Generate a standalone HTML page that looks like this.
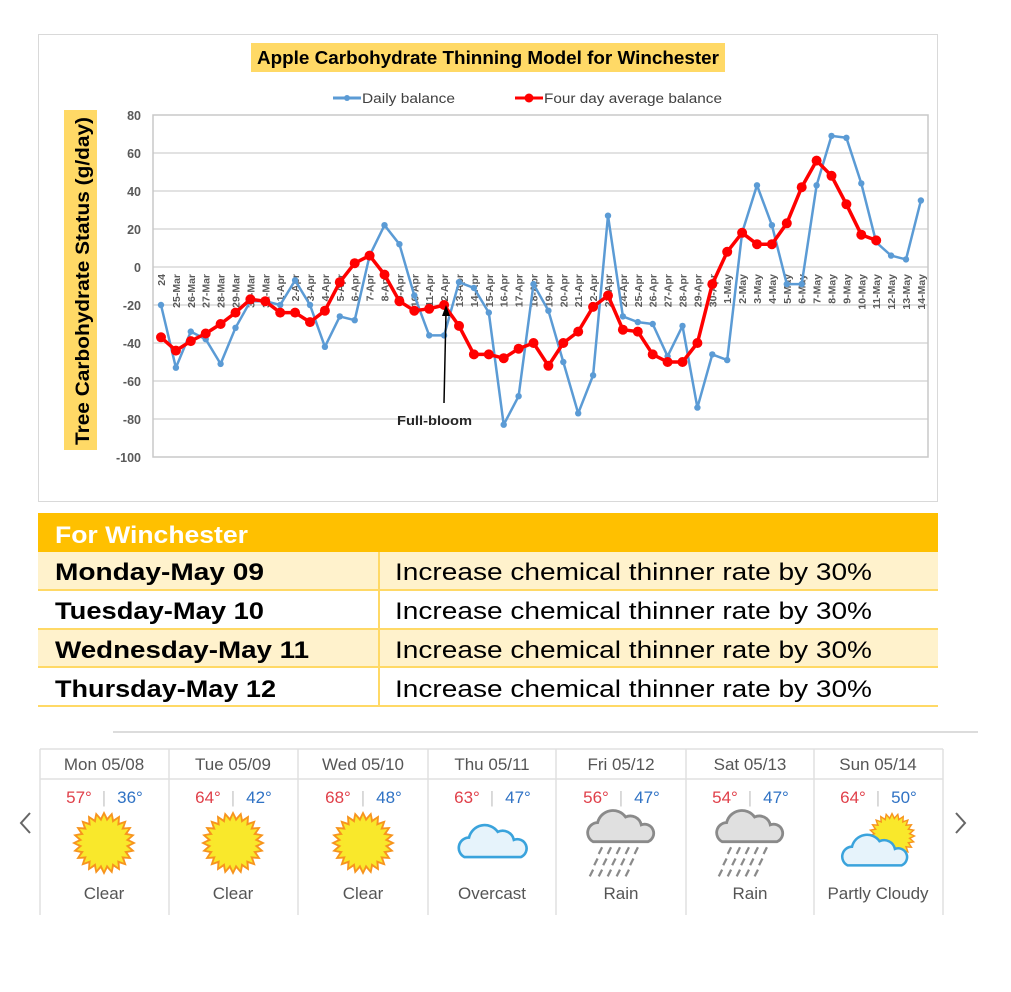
<!DOCTYPE html>
<html><head><meta charset="utf-8"><style>
body{margin:0;background:#fff;width:1011px;height:992px;overflow:hidden;position:relative;font-family:"Liberation Sans",sans-serif}
</style></head><body>
<svg width="1011" height="992" style="position:absolute;left:0;top:0" font-family="Liberation Sans, sans-serif">
<defs>
<g id="sun">
<g fill="#f7941d">
<polygon points="-6,-20 0,-32 6,-20"/>
<polygon points="-6,-20 0,-32 6,-20" transform="rotate(15)"/>
<polygon points="-6,-20 0,-32 6,-20" transform="rotate(30)"/>
<polygon points="-6,-20 0,-32 6,-20" transform="rotate(45)"/>
<polygon points="-6,-20 0,-32 6,-20" transform="rotate(60)"/>
<polygon points="-6,-20 0,-32 6,-20" transform="rotate(75)"/>
<polygon points="-6,-20 0,-32 6,-20" transform="rotate(90)"/>
<polygon points="-6,-20 0,-32 6,-20" transform="rotate(105)"/>
<polygon points="-6,-20 0,-32 6,-20" transform="rotate(120)"/>
<polygon points="-6,-20 0,-32 6,-20" transform="rotate(135)"/>
<polygon points="-6,-20 0,-32 6,-20" transform="rotate(150)"/>
<polygon points="-6,-20 0,-32 6,-20" transform="rotate(165)"/>
<polygon points="-6,-20 0,-32 6,-20" transform="rotate(180)"/>
<polygon points="-6,-20 0,-32 6,-20" transform="rotate(195)"/>
<polygon points="-6,-20 0,-32 6,-20" transform="rotate(210)"/>
<polygon points="-6,-20 0,-32 6,-20" transform="rotate(225)"/>
<polygon points="-6,-20 0,-32 6,-20" transform="rotate(240)"/>
<polygon points="-6,-20 0,-32 6,-20" transform="rotate(255)"/>
<polygon points="-6,-20 0,-32 6,-20" transform="rotate(270)"/>
<polygon points="-6,-20 0,-32 6,-20" transform="rotate(285)"/>
<polygon points="-6,-20 0,-32 6,-20" transform="rotate(300)"/>
<polygon points="-6,-20 0,-32 6,-20" transform="rotate(315)"/>
<polygon points="-6,-20 0,-32 6,-20" transform="rotate(330)"/>
<polygon points="-6,-20 0,-32 6,-20" transform="rotate(345)"/>
</g>
<circle r="22" fill="#f7941d"/>
<g fill="#f9e82b">
<polygon points="-4,-19 0,-28 4,-19"/>
<polygon points="-4,-19 0,-28 4,-19" transform="rotate(15)"/>
<polygon points="-4,-19 0,-28 4,-19" transform="rotate(30)"/>
<polygon points="-4,-19 0,-28 4,-19" transform="rotate(45)"/>
<polygon points="-4,-19 0,-28 4,-19" transform="rotate(60)"/>
<polygon points="-4,-19 0,-28 4,-19" transform="rotate(75)"/>
<polygon points="-4,-19 0,-28 4,-19" transform="rotate(90)"/>
<polygon points="-4,-19 0,-28 4,-19" transform="rotate(105)"/>
<polygon points="-4,-19 0,-28 4,-19" transform="rotate(120)"/>
<polygon points="-4,-19 0,-28 4,-19" transform="rotate(135)"/>
<polygon points="-4,-19 0,-28 4,-19" transform="rotate(150)"/>
<polygon points="-4,-19 0,-28 4,-19" transform="rotate(165)"/>
<polygon points="-4,-19 0,-28 4,-19" transform="rotate(180)"/>
<polygon points="-4,-19 0,-28 4,-19" transform="rotate(195)"/>
<polygon points="-4,-19 0,-28 4,-19" transform="rotate(210)"/>
<polygon points="-4,-19 0,-28 4,-19" transform="rotate(225)"/>
<polygon points="-4,-19 0,-28 4,-19" transform="rotate(240)"/>
<polygon points="-4,-19 0,-28 4,-19" transform="rotate(255)"/>
<polygon points="-4,-19 0,-28 4,-19" transform="rotate(270)"/>
<polygon points="-4,-19 0,-28 4,-19" transform="rotate(285)"/>
<polygon points="-4,-19 0,-28 4,-19" transform="rotate(300)"/>
<polygon points="-4,-19 0,-28 4,-19" transform="rotate(315)"/>
<polygon points="-4,-19 0,-28 4,-19" transform="rotate(330)"/>
<polygon points="-4,-19 0,-28 4,-19" transform="rotate(345)"/>
<circle r="20"/>
</g>
</g>
<path id="cloudp" d="M-24,14 A9,9 0 0 1 -20,-3 A14,14 0 0 1 5,-8 A10,10 0 0 1 19,-1 A8,8 0 0 1 25,14 Z"/>
<g id="rain">
<use href="#cloudp" fill="#e0e0e0" stroke="#8a8a8a" stroke-width="2.5"/>
<g stroke="#8a8a8a" stroke-width="2">
<line x1="-16" y1="19" x2="-19" y2="25"/><line x1="-8" y1="19" x2="-11" y2="25"/><line x1="0" y1="19" x2="-3" y2="25"/><line x1="8" y1="19" x2="5" y2="25"/><line x1="16" y1="19" x2="13" y2="25"/>
<line x1="-20" y1="29" x2="-23" y2="35"/><line x1="-12" y1="29" x2="-15" y2="35"/><line x1="-4" y1="29" x2="-7" y2="35"/><line x1="4" y1="29" x2="1" y2="35"/><line x1="12" y1="29" x2="9" y2="35"/>
<line x1="-24" y1="39" x2="-27" y2="45"/><line x1="-16" y1="39" x2="-19" y2="45"/><line x1="-8" y1="39" x2="-11" y2="45"/><line x1="0" y1="39" x2="-3" y2="45"/><line x1="8" y1="39" x2="5" y2="45"/>
</g>
</g>
</defs>

<rect x="38.5" y="34.5" width="899" height="467" fill="#fff" stroke="#d9d9d9"/>
<rect x="251" y="43" width="474" height="29" fill="#ffd966"/>
<text x="488" y="64" text-anchor="middle" font-size="18" font-weight="bold" fill="#000" textLength="462" lengthAdjust="spacingAndGlyphs">Apple Carbohydrate Thinning Model for Winchester</text>
<line x1="333" y1="98" x2="361" y2="98" stroke="#5b9bd5" stroke-width="3"/><circle cx="347" cy="98" r="3" fill="#5b9bd5"/>
<text x="362" y="103" font-size="13.5" fill="#404040" textLength="93" lengthAdjust="spacingAndGlyphs">Daily balance</text>
<line x1="515" y1="98" x2="543" y2="98" stroke="#f00" stroke-width="3"/><circle cx="529" cy="98" r="4.5" fill="#f00"/>
<text x="544" y="103" font-size="13.5" fill="#404040" textLength="178" lengthAdjust="spacingAndGlyphs">Four day average balance</text>
<rect x="64" y="110" width="33" height="340" fill="#ffd966"/>
<text transform="translate(89,445) rotate(-90)" font-size="19" font-weight="bold" fill="#000" textLength="328" lengthAdjust="spacingAndGlyphs">Tree Carbohydrate Status (g/day)</text>
<g stroke="#d9d9d9" stroke-width="1.5">
<line x1="153" y1="153" x2="928" y2="153"/><line x1="153" y1="191" x2="928" y2="191"/><line x1="153" y1="229" x2="928" y2="229"/><line x1="153" y1="267" x2="928" y2="267"/><line x1="153" y1="305" x2="928" y2="305"/><line x1="153" y1="343" x2="928" y2="343"/><line x1="153" y1="381" x2="928" y2="381"/><line x1="153" y1="419" x2="928" y2="419"/>
</g>
<rect x="153" y="115" width="775" height="342" fill="none" stroke="#c8c8c8" stroke-width="1.5"/>
<g font-size="12.5" font-weight="bold" fill="#595959" text-anchor="end">
<text x="141" y="120">80</text><text x="141" y="158">60</text><text x="141" y="196">40</text><text x="141" y="234">20</text><text x="141" y="272">0</text><text x="141" y="310">-20</text><text x="141" y="348">-40</text><text x="141" y="386">-60</text><text x="141" y="424">-80</text><text x="141" y="462">-100</text>
</g>
<g font-size="10.5" font-weight="bold" fill="#595959" text-anchor="end">
<text transform="translate(165,274) rotate(-90)">24</text>
<text transform="translate(179.9,274) rotate(-90)">25-Mar</text>
<text transform="translate(194.8,274) rotate(-90)">26-Mar</text>
<text transform="translate(209.7,274) rotate(-90)">27-Mar</text>
<text transform="translate(224.6,274) rotate(-90)">28-Mar</text>
<text transform="translate(239.5,274) rotate(-90)">29-Mar</text>
<text transform="translate(254.4,274) rotate(-90)">30-Mar</text>
<text transform="translate(269.3,274) rotate(-90)">31-Mar</text>
<text transform="translate(284.2,274) rotate(-90)">1-Apr</text>
<text transform="translate(299.1,274) rotate(-90)">2-Apr</text>
<text transform="translate(314,274) rotate(-90)">3-Apr</text>
<text transform="translate(328.9,274) rotate(-90)">4-Apr</text>
<text transform="translate(343.8,274) rotate(-90)">5-Apr</text>
<text transform="translate(358.7,274) rotate(-90)">6-Apr</text>
<text transform="translate(373.6,274) rotate(-90)">7-Apr</text>
<text transform="translate(388.5,274) rotate(-90)">8-Apr</text>
<text transform="translate(403.4,274) rotate(-90)">9-Apr</text>
<text transform="translate(418.3,274) rotate(-90)">10-Apr</text>
<text transform="translate(433.2,274) rotate(-90)">11-Apr</text>
<text transform="translate(448.1,274) rotate(-90)">12-Apr</text>
<text transform="translate(463,274) rotate(-90)">13-Apr</text>
<text transform="translate(477.9,274) rotate(-90)">14-Apr</text>
<text transform="translate(492.8,274) rotate(-90)">15-Apr</text>
<text transform="translate(507.7,274) rotate(-90)">16-Apr</text>
<text transform="translate(522.6,274) rotate(-90)">17-Apr</text>
<text transform="translate(537.5,274) rotate(-90)">18-Apr</text>
<text transform="translate(552.4,274) rotate(-90)">19-Apr</text>
<text transform="translate(567.3,274) rotate(-90)">20-Apr</text>
<text transform="translate(582.2,274) rotate(-90)">21-Apr</text>
<text transform="translate(597.1,274) rotate(-90)">22-Apr</text>
<text transform="translate(612,274) rotate(-90)">23-Apr</text>
<text transform="translate(626.9,274) rotate(-90)">24-Apr</text>
<text transform="translate(641.8,274) rotate(-90)">25-Apr</text>
<text transform="translate(656.7,274) rotate(-90)">26-Apr</text>
<text transform="translate(671.6,274) rotate(-90)">27-Apr</text>
<text transform="translate(686.5,274) rotate(-90)">28-Apr</text>
<text transform="translate(701.4,274) rotate(-90)">29-Apr</text>
<text transform="translate(716.3,274) rotate(-90)">30-Apr</text>
<text transform="translate(731.2,274) rotate(-90)">1-May</text>
<text transform="translate(746.1,274) rotate(-90)">2-May</text>
<text transform="translate(761,274) rotate(-90)">3-May</text>
<text transform="translate(775.9,274) rotate(-90)">4-May</text>
<text transform="translate(790.8,274) rotate(-90)">5-May</text>
<text transform="translate(805.7,274) rotate(-90)">6-May</text>
<text transform="translate(820.6,274) rotate(-90)">7-May</text>
<text transform="translate(835.5,274) rotate(-90)">8-May</text>
<text transform="translate(850.4,274) rotate(-90)">9-May</text>
<text transform="translate(865.3,274) rotate(-90)">10-May</text>
<text transform="translate(880.2,274) rotate(-90)">11-May</text>
<text transform="translate(895.1,274) rotate(-90)">12-May</text>
<text transform="translate(910,274) rotate(-90)">13-May</text>
<text transform="translate(924.9,274) rotate(-90)">14-May</text>
</g>
<polyline fill="none" stroke="#5b9bd5" stroke-width="2.5" stroke-linejoin="round" points="161,305 175.9,367.7 190.8,331.6 205.7,339.2 220.6,363.9 235.5,327.8 250.4,301.2 265.3,301.2 280.2,305 295.1,280.3 310,305 324.9,346.8 339.8,316.4 354.7,320.2 369.6,255.6 384.5,225.2 399.4,244.2 414.3,295.5 429.2,335.4 444.1,335.4 459,282.2 473.9,287.9 488.8,312.6 503.7,424.7 518.6,396.2 533.5,284.1 548.4,310.7 563.3,362 578.2,413.3 593.1,375.3 608,215.7 622.9,316.4 637.8,322.1 652.7,324 667.6,356.3 682.5,325.9 697.4,407.6 712.3,354.4 727.2,360.1 742.1,232.8 757,185.3 771.9,225.2 786.8,284.1 801.7,284.1 816.6,185.3 831.5,135.9 846.4,137.8 861.3,183.4 876.2,242.3 891.1,255.6 906,259.4 920.9,200.5"/>
<g fill="#5b9bd5">
<circle cx="161" cy="305" r="3.2"/><circle cx="175.9" cy="367.7" r="3.2"/><circle cx="190.8" cy="331.6" r="3.2"/><circle cx="205.7" cy="339.2" r="3.2"/><circle cx="220.6" cy="363.9" r="3.2"/><circle cx="235.5" cy="327.8" r="3.2"/><circle cx="250.4" cy="301.2" r="3.2"/><circle cx="265.3" cy="301.2" r="3.2"/><circle cx="280.2" cy="305" r="3.2"/><circle cx="295.1" cy="280.3" r="3.2"/><circle cx="310" cy="305" r="3.2"/><circle cx="324.9" cy="346.8" r="3.2"/><circle cx="339.8" cy="316.4" r="3.2"/><circle cx="354.7" cy="320.2" r="3.2"/><circle cx="369.6" cy="255.6" r="3.2"/><circle cx="384.5" cy="225.2" r="3.2"/><circle cx="399.4" cy="244.2" r="3.2"/><circle cx="414.3" cy="295.5" r="3.2"/><circle cx="429.2" cy="335.4" r="3.2"/><circle cx="444.1" cy="335.4" r="3.2"/><circle cx="459" cy="282.2" r="3.2"/><circle cx="473.9" cy="287.9" r="3.2"/><circle cx="488.8" cy="312.6" r="3.2"/><circle cx="503.7" cy="424.7" r="3.2"/><circle cx="518.6" cy="396.2" r="3.2"/><circle cx="533.5" cy="284.1" r="3.2"/><circle cx="548.4" cy="310.7" r="3.2"/><circle cx="563.3" cy="362" r="3.2"/><circle cx="578.2" cy="413.3" r="3.2"/><circle cx="593.1" cy="375.3" r="3.2"/><circle cx="608" cy="215.7" r="3.2"/><circle cx="622.9" cy="316.4" r="3.2"/><circle cx="637.8" cy="322.1" r="3.2"/><circle cx="652.7" cy="324" r="3.2"/><circle cx="667.6" cy="356.3" r="3.2"/><circle cx="682.5" cy="325.9" r="3.2"/><circle cx="697.4" cy="407.6" r="3.2"/><circle cx="712.3" cy="354.4" r="3.2"/><circle cx="727.2" cy="360.1" r="3.2"/><circle cx="742.1" cy="232.8" r="3.2"/><circle cx="757" cy="185.3" r="3.2"/><circle cx="771.9" cy="225.2" r="3.2"/><circle cx="786.8" cy="284.1" r="3.2"/><circle cx="801.7" cy="284.1" r="3.2"/><circle cx="816.6" cy="185.3" r="3.2"/><circle cx="831.5" cy="135.9" r="3.2"/><circle cx="846.4" cy="137.8" r="3.2"/><circle cx="861.3" cy="183.4" r="3.2"/><circle cx="876.2" cy="242.3" r="3.2"/><circle cx="891.1" cy="255.6" r="3.2"/><circle cx="906" cy="259.4" r="3.2"/><circle cx="920.9" cy="200.5" r="3.2"/>
</g>
<polyline fill="none" stroke="#f00" stroke-width="3.5" stroke-linejoin="round" points="161,337.3 175.9,350.6 190.8,341.1 205.7,333.5 220.6,324 235.5,312.6 250.4,299.3 265.3,301.2 280.2,312.6 295.1,312.6 310,322.1 324.9,310.7 339.8,282.2 354.7,263.2 369.6,255.6 384.5,274.6 399.4,301.2 414.3,310.7 429.2,308.8 444.1,305 459,325.9 473.9,354.4 488.8,354.4 503.7,358.2 518.6,348.7 533.5,343 548.4,365.8 563.3,343 578.2,331.6 593.1,306.9 608,295.5 622.9,329.7 637.8,331.6 652.7,354.4 667.6,362 682.5,362 697.4,343 712.3,284.1 727.2,251.8 742.1,232.8 757,244.2 771.9,244.2 786.8,223.3 801.7,187.2 816.6,160.6 831.5,175.8 846.4,204.3 861.3,234.7 876.2,240.4"/>
<g fill="#f00">
<circle cx="161" cy="337.3" r="5"/><circle cx="175.9" cy="350.6" r="5"/><circle cx="190.8" cy="341.1" r="5"/><circle cx="205.7" cy="333.5" r="5"/><circle cx="220.6" cy="324" r="5"/><circle cx="235.5" cy="312.6" r="5"/><circle cx="250.4" cy="299.3" r="5"/><circle cx="265.3" cy="301.2" r="5"/><circle cx="280.2" cy="312.6" r="5"/><circle cx="295.1" cy="312.6" r="5"/><circle cx="310" cy="322.1" r="5"/><circle cx="324.9" cy="310.7" r="5"/><circle cx="339.8" cy="282.2" r="5"/><circle cx="354.7" cy="263.2" r="5"/><circle cx="369.6" cy="255.6" r="5"/><circle cx="384.5" cy="274.6" r="5"/><circle cx="399.4" cy="301.2" r="5"/><circle cx="414.3" cy="310.7" r="5"/><circle cx="429.2" cy="308.8" r="5"/><circle cx="444.1" cy="305" r="5"/><circle cx="459" cy="325.9" r="5"/><circle cx="473.9" cy="354.4" r="5"/><circle cx="488.8" cy="354.4" r="5"/><circle cx="503.7" cy="358.2" r="5"/><circle cx="518.6" cy="348.7" r="5"/><circle cx="533.5" cy="343" r="5"/><circle cx="548.4" cy="365.8" r="5"/><circle cx="563.3" cy="343" r="5"/><circle cx="578.2" cy="331.6" r="5"/><circle cx="593.1" cy="306.9" r="5"/><circle cx="608" cy="295.5" r="5"/><circle cx="622.9" cy="329.7" r="5"/><circle cx="637.8" cy="331.6" r="5"/><circle cx="652.7" cy="354.4" r="5"/><circle cx="667.6" cy="362" r="5"/><circle cx="682.5" cy="362" r="5"/><circle cx="697.4" cy="343" r="5"/><circle cx="712.3" cy="284.1" r="5"/><circle cx="727.2" cy="251.8" r="5"/><circle cx="742.1" cy="232.8" r="5"/><circle cx="757" cy="244.2" r="5"/><circle cx="771.9" cy="244.2" r="5"/><circle cx="786.8" cy="223.3" r="5"/><circle cx="801.7" cy="187.2" r="5"/><circle cx="816.6" cy="160.6" r="5"/><circle cx="831.5" cy="175.8" r="5"/><circle cx="846.4" cy="204.3" r="5"/><circle cx="861.3" cy="234.7" r="5"/><circle cx="876.2" cy="240.4" r="5"/>
</g>
<line x1="444" y1="403" x2="446" y2="312" stroke="#000" stroke-width="1.5"/>
<polygon points="446,305 442,316 450,316" fill="#000"/>
<text x="397" y="425" font-size="12.5" font-weight="bold" fill="#262626" textLength="75" lengthAdjust="spacingAndGlyphs">Full-bloom</text>

<rect x="38" y="513" width="900" height="39" fill="#ffc000"/>
<text x="55" y="543" font-size="24" font-weight="bold" fill="#fff" textLength="193" lengthAdjust="spacingAndGlyphs">For Winchester</text>
<rect x="38" y="552" width="900" height="38" fill="#fff2cc"/>
<rect x="38" y="629" width="900" height="38" fill="#fff2cc"/>
<g stroke="#ffd966" stroke-width="2">
<line x1="38" y1="590" x2="938" y2="590"/><line x1="38" y1="629" x2="938" y2="629"/><line x1="38" y1="667" x2="938" y2="667"/><line x1="38" y1="706" x2="938" y2="706"/>
<line x1="379" y1="552" x2="379" y2="706"/>
</g>
<g font-size="24" font-weight="bold" fill="#000">
<text x="55" y="580" textLength="209" lengthAdjust="spacingAndGlyphs">Monday-May 09</text>
<text x="55" y="619" textLength="209" lengthAdjust="spacingAndGlyphs">Tuesday-May 10</text>
<text x="55" y="658" textLength="254" lengthAdjust="spacingAndGlyphs">Wednesday-May 11</text>
<text x="55" y="697" textLength="221" lengthAdjust="spacingAndGlyphs">Thursday-May 12</text>
</g>
<g font-size="24" fill="#000">
<text x="395" y="580" textLength="477" lengthAdjust="spacingAndGlyphs">Increase chemical thinner rate by 30%</text>
<text x="395" y="619" textLength="477" lengthAdjust="spacingAndGlyphs">Increase chemical thinner rate by 30%</text>
<text x="395" y="658" textLength="477" lengthAdjust="spacingAndGlyphs">Increase chemical thinner rate by 30%</text>
<text x="395" y="697" textLength="477" lengthAdjust="spacingAndGlyphs">Increase chemical thinner rate by 30%</text>
</g>

<line x1="113" y1="732" x2="978" y2="732" stroke="#d0d0d0" stroke-width="1.5"/>
<g stroke="#e0e0e0" stroke-width="1.5">
<line x1="40" y1="749" x2="943" y2="749"/><line x1="40" y1="779" x2="943" y2="779"/>
<line x1="40" y1="749" x2="40" y2="915"/><line x1="169" y1="749" x2="169" y2="915"/><line x1="298" y1="749" x2="298" y2="915"/><line x1="428" y1="749" x2="428" y2="915"/><line x1="556" y1="749" x2="556" y2="915"/><line x1="686" y1="749" x2="686" y2="915"/><line x1="814" y1="749" x2="814" y2="915"/><line x1="943" y1="749" x2="943" y2="915"/>
</g>
<polyline points="30,813 21,823 30,833" fill="none" stroke="#666" stroke-width="2"/>
<polyline points="956,813 965,823 956,833" fill="none" stroke="#666" stroke-width="2"/>
<g font-size="17" fill="#555" text-anchor="middle">
<text x="104" y="770">Mon 05/08</text><text x="233" y="770">Tue 05/09</text><text x="363" y="770">Wed 05/10</text><text x="492" y="770">Thu 05/11</text><text x="621" y="770">Fri 05/12</text><text x="750" y="770">Sat 05/13</text><text x="878" y="770">Sun 05/14</text>
</g>
<g font-size="17" text-anchor="middle">
<g transform="translate(104,0)"><text x="-25" y="803" fill="#e0404a">57°</text><text x="0" y="803" fill="#ccc">|</text><text x="26" y="803" fill="#2f72c4">36°</text></g>
<g transform="translate(233,0)"><text x="-25" y="803" fill="#e0404a">64°</text><text x="0" y="803" fill="#ccc">|</text><text x="26" y="803" fill="#2f72c4">42°</text></g>
<g transform="translate(363,0)"><text x="-25" y="803" fill="#e0404a">68°</text><text x="0" y="803" fill="#ccc">|</text><text x="26" y="803" fill="#2f72c4">48°</text></g>
<g transform="translate(492,0)"><text x="-25" y="803" fill="#e0404a">63°</text><text x="0" y="803" fill="#ccc">|</text><text x="26" y="803" fill="#2f72c4">47°</text></g>
<g transform="translate(621,0)"><text x="-25" y="803" fill="#e0404a">56°</text><text x="0" y="803" fill="#ccc">|</text><text x="26" y="803" fill="#2f72c4">47°</text></g>
<g transform="translate(750,0)"><text x="-25" y="803" fill="#e0404a">54°</text><text x="0" y="803" fill="#ccc">|</text><text x="26" y="803" fill="#2f72c4">47°</text></g>
<g transform="translate(878,0)"><text x="-25" y="803" fill="#e0404a">64°</text><text x="0" y="803" fill="#ccc">|</text><text x="26" y="803" fill="#2f72c4">50°</text></g>
</g>
<use href="#sun" x="104" y="843"/>
<use href="#sun" x="233" y="843"/>
<use href="#sun" x="363" y="843"/>
<g transform="translate(492,841) scale(1.15)"><use href="#cloudp" fill="#e6f3fb" stroke="#3aa3dc" stroke-width="2.3"/></g>
<g transform="translate(620,826) scale(1.12)"><use href="#rain"/></g>
<g transform="translate(749,826) scale(1.12)"><use href="#rain"/></g>
<g transform="translate(892,836) scale(0.75)"><use href="#sun"/></g>
<g transform="translate(874,850) scale(1.1)"><use href="#cloudp" fill="#e6f3fb" stroke="#3aa3dc" stroke-width="2.3"/></g>
<g font-size="17" fill="#555" text-anchor="middle">
<text x="104" y="899">Clear</text><text x="233" y="899">Clear</text><text x="363" y="899">Clear</text><text x="492" y="899">Overcast</text><text x="621" y="899">Rain</text><text x="750" y="899">Rain</text><text x="878" y="899">Partly Cloudy</text>
</g>
</svg>
</body></html>
